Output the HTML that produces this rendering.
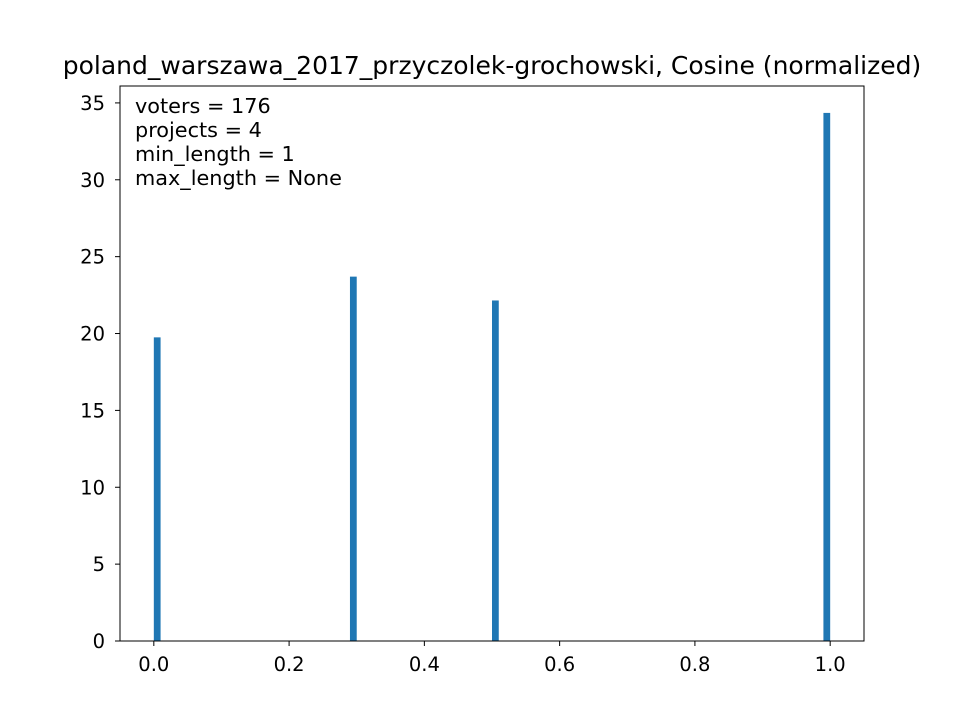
<!DOCTYPE html>
<html><head><meta charset="utf-8"><style>
body{margin:0;background:#fff;}
svg text{font-family:"DejaVu Sans","Liberation Sans",sans-serif;}
</style></head><body>
<svg id="chart" width="960" height="720" xmlns="http://www.w3.org/2000/svg">
<rect width="960" height="720" fill="#fff"/>
<text x="492" y="74" style="font-size:25px" text-anchor="middle">poland_warszawa_2017_przyczolek-grochowski, Cosine (normalized)</text>
<g id="bars"></g>
<g id="xticks"></g>
<g id="yticks"></g>
<rect x="120" y="86" width="744" height="555" fill="none" stroke="#000" stroke-width="1"/>
<g style="font-size:20.8px">
<text x="135" y="113">voters = 176</text>
<text x="135" y="137">projects = 4</text>
<text x="135" y="161">min_length = 1</text>
<text x="135" y="185">max_length = None</text>
</g>
</svg>
<script>
const binStarts = [0.0, 0.29, 0.5, 0.99];
const densities = [19.75, 23.7, 22.15, 34.35];
const binWidth = 0.01;
const xTicks = [0.0, 0.2, 0.4, 0.6, 0.8, 1.0];
const xTickLabels = ["0.0", "0.2", "0.4", "0.6", "0.8", "1.0"];
const yTicks = [0, 5, 10, 15, 20, 25, 30, 35];

const L=120,R=864,T=86,B=641, xmin=-0.05,xmax=1.05, ymin=0,ymax=36.1;
const X=v=>L+(v-xmin)/(xmax-xmin)*(R-L);
const Y=v=>B-(v-ymin)/(ymax-ymin)*(B-T);
const NS="http://www.w3.org/2000/svg";
function mk(tag,attrs,parent){const e=document.createElementNS(NS,tag);for(const k in attrs)e.setAttribute(k,attrs[k]);parent.appendChild(e);return e;}
const bars=document.getElementById('bars');
binStarts.forEach((b,i)=>{
  const r=mk('rect',{x:X(b),y:Y(densities[i]),width:X(b+binWidth)-X(b),height:Y(0)-Y(densities[i]),fill:'#1f77b4'},bars);
  
  
});
const xg=document.getElementById('xticks');
xTicks.forEach((t,i)=>{
  const l=mk('line',{x1:X(t),x2:X(t),y1:B,y2:B+5,stroke:'#000'},xg);
  
  
  const tx=mk('text',{x:X(t),y:B+30,style:'font-size:19.5px','text-anchor':'middle'},xg);
  tx.textContent=xTickLabels[i];
  
  
});
const yg=document.getElementById('yticks');
yTicks.forEach(t=>{
  const l=mk('line',{x1:L-5,x2:L,y1:Y(t),y2:Y(t),stroke:'#000'},yg);
  
  
  const tx=mk('text',{x:L-15,y:Y(t)+7,style:'font-size:19.5px','text-anchor':'end'},yg);
  tx.textContent=String(t);
  
  
});
</script>
</body></html>
